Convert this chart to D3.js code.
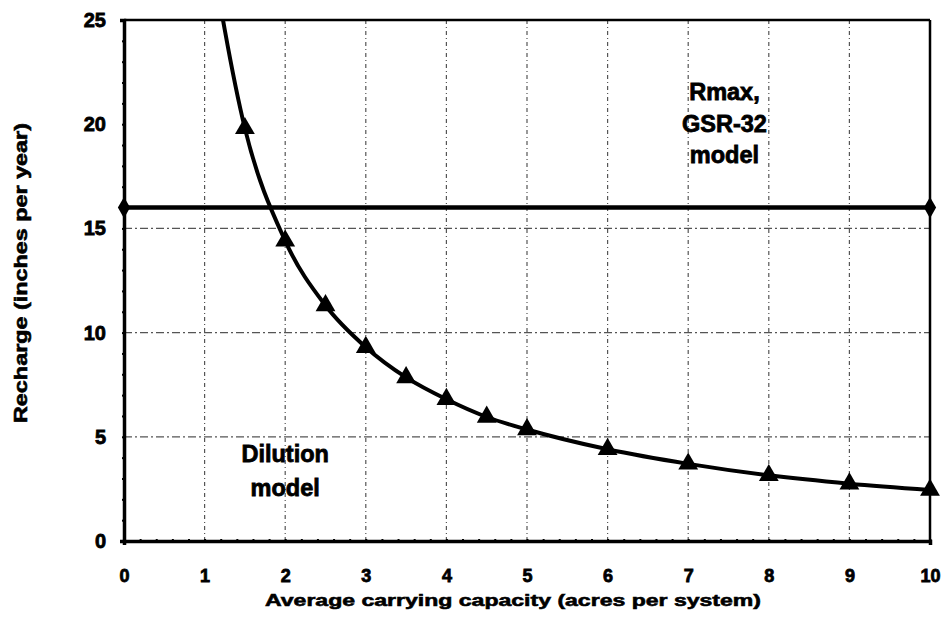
<!DOCTYPE html>
<html>
<head>
<meta charset="utf-8">
<script src="https://cdn.jsdelivr.net/npm/d3@7"></script>
<style>
  html, body { margin: 0; padding: 0; background: #fff; }
  svg { display: block; }
  text { font-family: "Liberation Sans", Arial, sans-serif; font-weight: bold; fill: #000; }
</style>
</head>
<body>
<svg id="chart" width="947" height="621"></svg>
<script>
// ---- Data ----
const dilutionX = [1, 1.5, 2, 2.5, 3, 3.5, 4, 4.5, 5, 6, 7, 8, 9, 10];
const dilutionY = [30.2, 19.8, 14.4, 11.3, 9.3, 7.85, 6.8, 5.95, 5.35, 4.4, 3.7, 3.15, 2.75, 2.45];
const rmaxX = [0, 10];
const rmaxY = [16, 16];
const xTicks = [0, 1, 2, 3, 4, 5, 6, 7, 8, 9, 10];
const yTicks = [0, 5, 10, 15, 20, 25];
const xGrid = [1, 2, 3, 4, 5, 6, 7, 8, 9];
const yGrid = [5, 10, 15];
const xTitle = "Average carrying capacity (acres per system)";
const yTitle = "Recharge (inches per year)";
const rmaxLabel = ["Rmax,", "GSR-32", "model"];
const dilutionLabel = ["Dilution", "model"];

// ---- Layout ----
const W = 947, H = 621;
const m = { left: 124, right: 17, top: 20, bottom: 80 };
const iw = W - m.left - m.right, ih = H - m.top - m.bottom;

const svg = d3.select("#chart");
const g = svg.append("g").attr("transform", `translate(${m.left},${m.top})`);

const x = d3.scaleLinear().domain([0, 10]).range([0, iw]);
const y = d3.scaleLinear().domain([0, 25]).range([ih, 0]);

svg.append("defs").append("clipPath").attr("id", "plotclip")
  .append("rect").attr("x", -10).attr("y", 0).attr("width", iw + 20).attr("height", ih + 10);

// grid
g.append("g").selectAll("line").data(xGrid).join("line")
  .attr("x1", d => x(d)).attr("x2", d => x(d))
  .attr("y1", 0).attr("y2", ih)
  .attr("stroke", "#555").attr("stroke-width", 1.2)
  .attr("stroke-dasharray", "4,3,1,3");
g.append("g").selectAll("line").data(yGrid).join("line")
  .attr("x1", 0).attr("x2", iw)
  .attr("y1", d => y(d)).attr("y2", d => y(d))
  .attr("stroke", "#555").attr("stroke-width", 1.2)
  .attr("stroke-dasharray", "8,3,2,3");

// frame top & right
g.append("line").attr("x1", 0).attr("x2", iw).attr("y1", 0).attr("y2", 0)
  .attr("stroke", "#000").attr("stroke-width", 2.5);
g.append("line").attr("x1", iw).attr("x2", iw).attr("y1", 0).attr("y2", ih)
  .attr("stroke", "#000").attr("stroke-width", 2.5);

// axes
const xAxisMinor = d3.axisBottom(x).tickValues(d3.range(0, 10.01, 0.2)).tickSize(4).tickFormat("");
const xa = g.append("g").attr("transform", `translate(0,${ih})`).call(xAxisMinor);
xa.select(".domain").attr("stroke-width", 3.5);
xa.selectAll(".tick line").attr("stroke-width", 2).attr("transform", "translate(0,-2)");

const xAxis = d3.axisBottom(x).tickValues(xTicks).tickSize(0).tickPadding(28).tickFormat(d3.format("d"));
const xl = g.append("g").attr("transform", `translate(0,${ih})`).call(xAxis);
xl.select(".domain").remove();
xl.selectAll("text").attr("font-size", 18).attr("font-family", "Liberation Sans, Arial, sans-serif")
  .attr("font-weight", "bold").attr("stroke", "#000").attr("stroke-width", 0.8);

const yAxisMinor = d3.axisLeft(y).tickValues(d3.range(0, 25.01, 1)).tickSize(4).tickFormat("");
const ya = g.append("g").call(yAxisMinor);
ya.select(".domain").attr("stroke-width", 3.5);
ya.selectAll(".tick line").attr("stroke-width", 2).attr("transform", "translate(2,0)");

const yAxis = d3.axisLeft(y).tickValues(yTicks).tickSize(0).tickPadding(18).tickFormat(d3.format("d"));
const yl = g.append("g").call(yAxis);
yl.select(".domain").remove();
yl.selectAll("text").attr("font-size", 20).attr("font-family", "Liberation Sans, Arial, sans-serif")
  .attr("font-weight", "bold").attr("stroke", "#000").attr("stroke-width", 0.8);

// Rmax line
const rmax = rmaxX.map((d, i) => ({ x: d, y: rmaxY[i] }));
g.append("path").datum(rmax)
  .attr("d", d3.line().x(d => x(d.x)).y(d => y(d.y)))
  .attr("fill", "none").attr("stroke", "#000").attr("stroke-width", 4.5);
g.append("g").selectAll("path").data(rmax).join("path")
  .attr("transform", d => `translate(${x(d.x)},${y(d.y)})`)
  .attr("d", d3.symbol().type(d3.symbolDiamond).size(130))
  .attr("fill", "#000");

// Dilution curve
const dil = dilutionX.map((d, i) => ({ x: d, y: dilutionY[i] }));
const cg = g.append("g").attr("clip-path", "url(#plotclip)");
cg.append("path").datum(dil)
  .attr("d", d3.line().x(d => x(d.x)).y(d => y(d.y)).curve(d3.curveMonotoneX))
  .attr("fill", "none").attr("stroke", "#000").attr("stroke-width", 4);
cg.selectAll(".tri").data(dil.filter(d => d.y <= 25)).join("path").attr("class", "tri")
  .attr("transform", d => `translate(${x(d.x)},${y(d.y)})`)
  .attr("d", d3.symbol().type(d3.symbolTriangle).size(170))
  .attr("fill", "#000");

// annotations
const ann = (lines, cx, cy0, dy) => {
  g.append("g").selectAll("text").data(lines).join("text")
    .attr("x", cx).attr("y", (d, i) => cy0 + i * dy)
    .attr("text-anchor", "middle").attr("dominant-baseline", "middle")
    .attr("font-size", 23.5).attr("stroke", "#000").attr("stroke-width", 0.8)
    .text(d => d);
};
ann(rmaxLabel, x(7.45), y(25) + 74, 31.5);
ann(dilutionLabel, x(2.0), y(4.1), 34);

// titles
svg.append("text").attr("x", 513).attr("y", 602)
  .attr("text-anchor", "middle").attr("dominant-baseline", "middle")
  .attr("font-family", "DejaVu Sans, sans-serif")
  .attr("font-size", 17).attr("stroke", "#000").attr("stroke-width", 0.6)
  .attr("textLength", 496).attr("lengthAdjust", "spacingAndGlyphs")
  .text(xTitle);
svg.append("text").attr("transform", `translate(22,273) rotate(-90)`)
  .attr("text-anchor", "middle").attr("dominant-baseline", "middle")
  .attr("font-family", "DejaVu Sans, sans-serif")
  .attr("font-size", 18).attr("stroke", "#000").attr("stroke-width", 0.6)
  .attr("textLength", 300).attr("lengthAdjust", "spacingAndGlyphs")
  .text(yTitle);
</script>
</body>
</html>
